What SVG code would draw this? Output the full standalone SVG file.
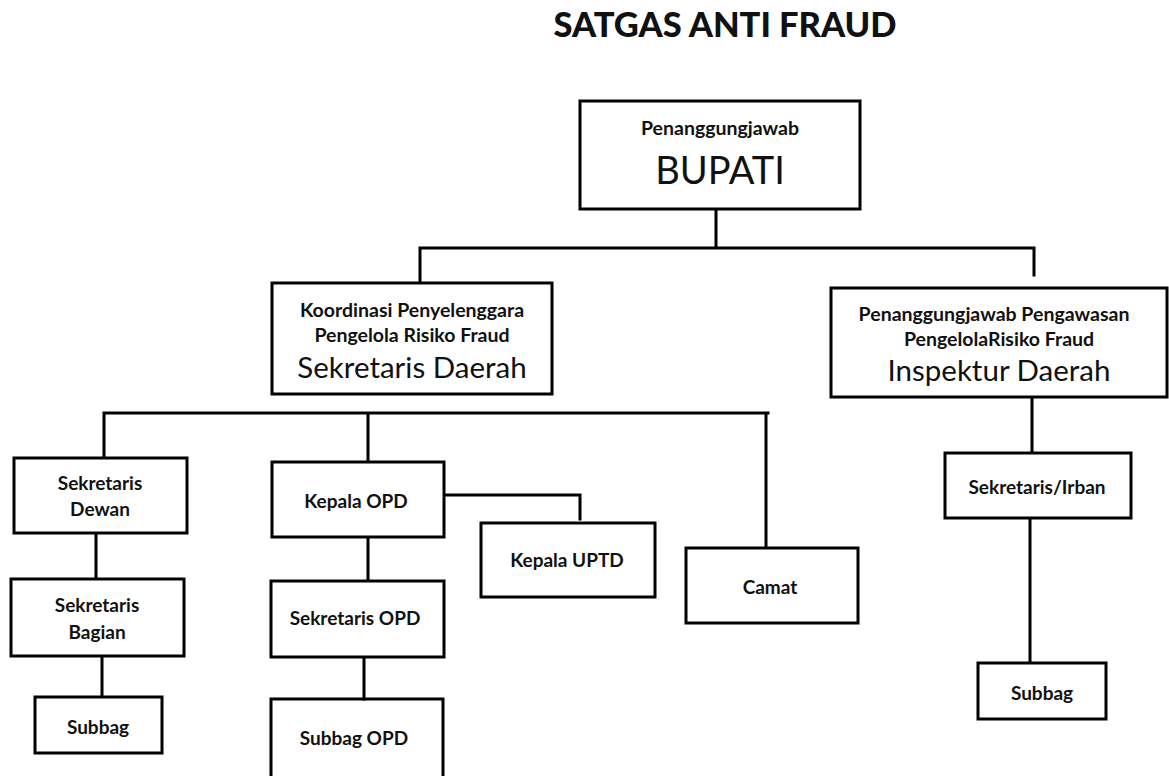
<svg xmlns="http://www.w3.org/2000/svg" width="1169" height="776" viewBox="0 0 1169 776">
<style>
.box{fill:#fff;stroke:#000;stroke-width:3}
.ln{fill:none;stroke:#000;stroke-width:3;stroke-linecap:square}
text{font-family:Lato,"Open Sans","Liberation Sans",sans-serif;fill:#111;text-anchor:middle}
.t{font-size:34.5px;font-weight:900}
.s{font-size:19.5px;font-weight:700}
.m{font-size:19px;font-weight:700}
.b{font-size:38px;font-weight:400}
.h{font-size:29.5px;font-weight:400}
</style>
<rect width="1169" height="776" fill="#fff"/>
<text class="t" x="725" y="37">SATGAS ANTI FRAUD</text>
<g id="connectors">
<path class="ln" d="M716 209V248M420 248H1034M420 248V283M1034 248V275"/>
<path class="ln" d="M104 413H768M104 413V458M368 413V462M766 413V548"/>
<path class="ln" d="M96 533V579M102 656V697"/>
<path class="ln" d="M368 537V581M364 657V699M444 495H580V519"/>
<path class="ln" d="M1032 397V453M1030 518V663"/>
</g>
<g id="bupati"><rect class="box" x="580" y="101" width="280" height="108"/>
<text class="s" x="720" y="135">Penanggungjawab</text><text class="b" x="720" y="184">BUPATI</text></g>
<g id="sekda"><rect class="box" x="272" y="283" width="280" height="111"/>
<text class="s" x="412" y="317">Koordinasi Penyelenggara</text><text class="s" x="412" y="342">Pengelola Risiko Fraud</text><text class="h" x="412" y="378">Sekretaris Daerah</text></g>
<g id="inspektur"><rect class="box" x="831" y="288" width="336" height="109"/>
<text class="s" x="994" y="321">Penanggungjawab Pengawasan</text><text class="s" x="999" y="346">PengelolaRisiko Fraud</text><text class="h" x="999" y="381">Inspektur Daerah</text></g>
<g id="sekwan"><rect class="box" x="14" y="458" width="173" height="75"/>
<text class="m" x="100" y="490">Sekretaris</text><text class="m" x="100" y="516">Dewan</text></g>
<g id="sekbag"><rect class="box" x="11" y="579" width="173" height="77"/>
<text class="m" x="97" y="612">Sekretaris</text><text class="m" x="97" y="639">Bagian</text></g>
<g id="subbag1"><rect class="box" x="35" y="697" width="127" height="56"/>
<text class="m" x="98" y="734">Subbag</text></g>
<g id="kepalaopd"><rect class="box" x="272" y="462" width="172" height="75"/>
<text class="m" x="356" y="508">Kepala OPD</text></g>
<g id="uptd"><rect class="box" x="481" y="523" width="174" height="74"/>
<text class="m" x="567" y="567">Kepala UPTD</text></g>
<g id="camat"><rect class="box" x="686" y="548" width="172" height="75"/>
<text class="m" x="770" y="594">Camat</text></g>
<g id="sekopd"><rect class="box" x="271" y="581" width="173" height="76"/>
<text class="m" x="355" y="625">Sekretaris OPD</text></g>
<g id="subbagopd"><path class="ln" d="M271 790V699H443V790"/>
<text class="m" x="354" y="745">Subbag OPD</text></g>
<g id="irban"><rect class="box" x="945" y="453" width="186" height="65"/>
<text class="m" x="1037" y="494">Sekretaris/Irban</text></g>
<g id="subbag2"><rect class="box" x="978" y="663" width="128" height="56"/>
<text class="m" x="1042" y="700">Subbag</text></g>
</svg>
